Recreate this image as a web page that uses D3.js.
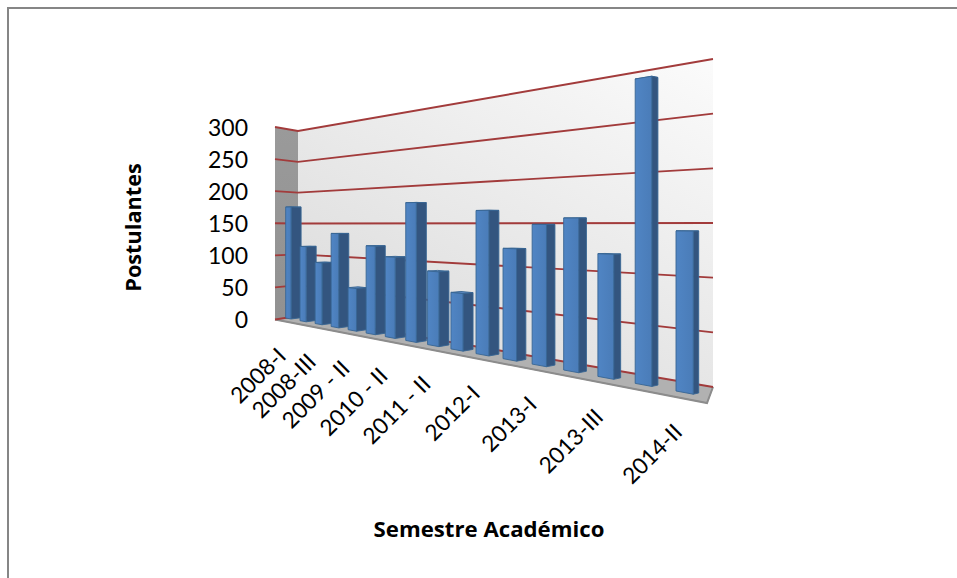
<!DOCTYPE html>
<html><head><meta charset="utf-8">
<style>html,body{margin:0;padding:0;background:#fff}svg{display:block}text{font-family:Lato,sans-serif;fill:#000}</style>
<script src="https://cdn.jsdelivr.net/npm/d3@7/dist/d3.min.js"></script>
</head><body><svg id="c" width="957" height="578"></svg>
<script>
const categories=["2008-I","2008-II","2008-III","2009-I","2009-II","2010-I","2010-II","2011-I","2011-II","2011-III","2012-I","2012-II","2013-I","2013-II","2013-III","2014-I","2014-II"];
const postulantes=[170,111,89,132,58,117,104,174,90,67,164,122,149,156,121,288,145];
const yTicks=[0,50,100,150,200,250,300];
const shownLabels=["2008-I","2008-III","2009-II","2010-II","2011-II","2012-I","2013-I","2013-III","2014-II"];
const displayLabels={"2009-II":"2009 - II","2010-II":"2010 - II","2011-II":"2011 - II"};

const svg=d3.select("#c");
const defs=svg.append("defs");
const g=defs.append("linearGradient").attr("id","wall").attr("x1","1").attr("y1","0").attr("x2","0.3").attr("y2","1");
g.append("stop").attr("offset","0").attr("stop-color","#fbfbfb");
g.append("stop").attr("offset","1").attr("stop-color","#dcdcdc");
const gs=defs.append("linearGradient").attr("id","side").attr("x1","0").attr("y1","0").attr("x2","0").attr("y2","1");
gs.append("stop").attr("offset","0").attr("stop-color","#9a9a9a");
gs.append("stop").attr("offset","1").attr("stop-color","#919191");
const gf=defs.append("linearGradient").attr("id","front").attr("x1","0").attr("y1","0").attr("x2","1").attr("y2","0");
gf.append("stop").attr("offset","0").attr("stop-color","#5085c4");
gf.append("stop").attr("offset","1").attr("stop-color","#4a7cb8");

svg.append("path").attr("d","M8,578V8H957").attr("fill","none").attr("stroke","#868686").attr("stroke-width",2);

// perspective scales
const K=37.3, VPX=-230, HORIZON=223;
const u=i=>1/(K-i);
const xFront=d3.scaleLinear().domain([u(0),u(16)]).range([285.7,676]);
const xBar=i=>xFront(u(i));
const base=d3.scaleLinear().domain([285.7,676]).range([318,391]);
const unit=d3.scaleLinear().domain([275,707]).range([32/50,57/50]);
const frontW=d3.scaleLinear().domain([0,16]).range([5.4,17.3]);
const sideW=d3.scaleLinear().domain([0,10,16]).range([10,10,5.4]);
const labelDrop=d3.scaleLinear().domain([0,16]).range([39,41]);
const yOuter=d3.scaleLinear().domain([0,300]).range([319.5,127]);
const yInner=d3.scaleLinear().domain([0,300]).range([316,131]);
const yRight=d3.scaleLinear().domain([0,300]).range([387,59]);
const X0=275,X1=298,X2=713;
const line=d3.line();
const along=(x,y,x2)=>HORIZON+(y-HORIZON)*(x2-VPX)/(x-VPX);
const back=(y,w)=>y-(y-HORIZON)*w*0.00135;

// floor
svg.append("path").attr("d",line([[X0,yOuter(0)],[X1,yInner(0)],[X2,yRight(0)],[707,403],[X0,yOuter(0)]])+"Z").attr("fill","#b1b1b1").attr("stroke","#8c8c8c").attr("stroke-width",1);
svg.append("path").attr("d",line([[X0,yOuter(0)],[707,403],[X2,yRight(0)]])).attr("fill","none").attr("stroke","#8c8c8c").attr("stroke-width",2);
// walls
svg.append("path").attr("d",line([[X0,yOuter(300)],[X1,yInner(300)],[X1,yInner(0)],[X0,yOuter(0)]])+"Z").attr("fill","url(#side)");
svg.append("path").attr("d",line([[X1,yInner(300)],[X2,yRight(300)],[X2,yRight(0)],[X1,yInner(0)]])+"Z").attr("fill","url(#wall)");
// grid
svg.append("g").selectAll("path").data(yTicks).join("path")
 .attr("d",t=>line([[X0,yOuter(t)],[X1,yInner(t)],[X2,yRight(t)]]))
 .attr("fill","none").attr("stroke","#a23b3b").attr("stroke-width",1.9);
// y labels
svg.append("g").selectAll("text").data(yTicks).join("text")
 .attr("x",248).attr("y",t=>yOuter(t)+8.5).attr("text-anchor","end").attr("font-size",23).text(d=>d);
// bars
const bars=svg.append("g").selectAll("g").data(postulantes).join("g");
bars.each(function(v,i){
 const x=xBar(i),w=frontW(i),s=sideW(i),xr=x+w;
 const yb=base(x),h=v*unit(x),yt=yb-h;
 const ybr=along(x,yb,xr),ytr=along(x,yt,xr);
 const sel=d3.select(this);
 const P=(pts,fill)=>sel.append("path").attr("d",line(pts)+"Z").attr("fill",fill).attr("stroke","#386593").attr("stroke-width",0.9).attr("stroke-linejoin","round");
 P([[x,yt],[xr,ytr],[xr+s,back(ytr,s)],[x+s,back(yt,s)]],"#5b87bd");
 P([[xr,ytr],[xr+s,back(ytr,s)],[xr+s,back(ybr,s)],[xr,ybr]],"#33557f");
 P([[x,yt],[xr,ytr],[xr,ybr],[x,yb]],"url(#front)");
});
// x labels
svg.append("g").selectAll("text").data(shownLabels).join("text")
 .attr("text-anchor","end").attr("font-size",22.5)
 .attr("transform",d=>{const i=categories.indexOf(d),x=xBar(i)+frontW(i)/2;return `translate(${x-1},${base(x)+labelDrop(i)}) rotate(-45)`;})
 .text(d=>displayLabels[d]||d);
// titles
svg.append("text").attr("transform","translate(141,227.5) rotate(-90)").attr("text-anchor","middle").attr("font-size",21.7).attr("font-weight",700).style("font-family","'Open Sans',sans-serif").text("Postulantes");
svg.append("text").attr("x",489).attr("y",537).attr("text-anchor","middle").attr("font-size",22.2).attr("font-weight",700).style("font-family","'Open Sans',sans-serif").text("Semestre Académico");
</script></body></html>
